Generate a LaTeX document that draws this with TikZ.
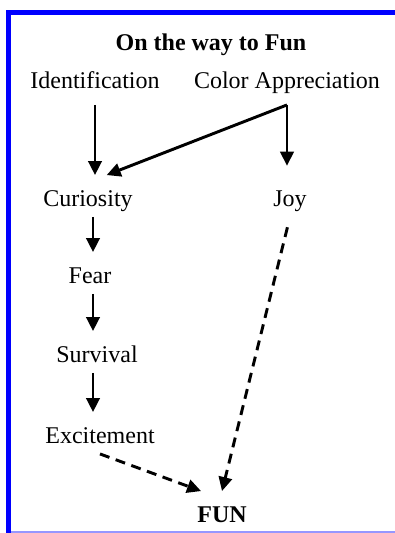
\documentclass[tikz,border=0pt]{standalone}
\usepackage{fontspec}
\setmainfont{Liberation Serif}
\usetikzlibrary{arrows.meta,positioning}
\definecolor{frameBlue}{RGB}{0,0,255}
\definecolor{frameLight}{RGB}{150,150,255}

\begin{document}
\begin{tikzpicture}[x=0.75pt, y=-0.75pt,
    lbl/.style={font=\fontsize{18}{22}\selectfont, anchor=base, inner xsep=2pt, inner ysep=4pt, text height=19pt, text depth=4pt},
    lblb/.style={lbl, font=\fontsize{18}{22}\selectfont\bfseries},
    arr/.style={line width=2.2pt, -{Triangle[length=10.5pt,width=10pt]}},
    darr/.style={arr, dash pattern=on 7.5pt off 5pt}]
    \useasboundingbox (0,0) rectangle (395,533);

    % Frame (blue on top and left, pale line at the bottom)
    \draw[frameBlue, line width=3.75pt] (8.5,533) -- (8.5,12.5) -- (395,12.5);
    \draw[frameLight, line width=1.5pt] (11,532) -- (395,532);

    % Title
    \node[lblb] (title) at (211,50) {On the way to Fun};

    % Starting points
    \node[lbl] (ident) at (95,88) {Identification};
    \node[lbl] (color) at (287,88) {Color Appreciation};
    \coordinate[below=4.5pt of color] (split);

    % Left chain
    \node[lbl] (cur) at (88,206) {Curiosity};
    \node[lbl] (fear) at (90,283) {Fear};
    \node[lbl] (surv) at (97,362) {Survival};
    \node[lbl] (exc) at (100,443) {Excitement};
    \coordinate (col) at (93,0);

    % Right branch and goal
    \node[lbl] (joy) at (290,206) {Joy};
    \node[lblb] (fun) at (222,522) {FUN};

    % Solid arrows
    \draw[arr, shorten <=4.5pt] (ident.south) -- (ident.south |- cur.north);
    \draw[arr] (split) -- ([xshift=14pt]cur.north);
    \draw[arr, shorten >=7pt] (split) -- (split |- joy.north);
    \draw[arr] (cur.south -| col) -- (fear.north -| col);
    \draw[arr] (fear.south -| col) -- (surv.north -| col);
    \draw[arr] (surv.south -| col) -- (exc.north -| col);

    % Dashed arrows into FUN
    \draw[darr] (exc.south) -- ([xshift=5pt]fun.north west);
    \draw[darr, shorten <=8pt] (joy.south) -- (fun.north);
\end{tikzpicture}
\end{document}
